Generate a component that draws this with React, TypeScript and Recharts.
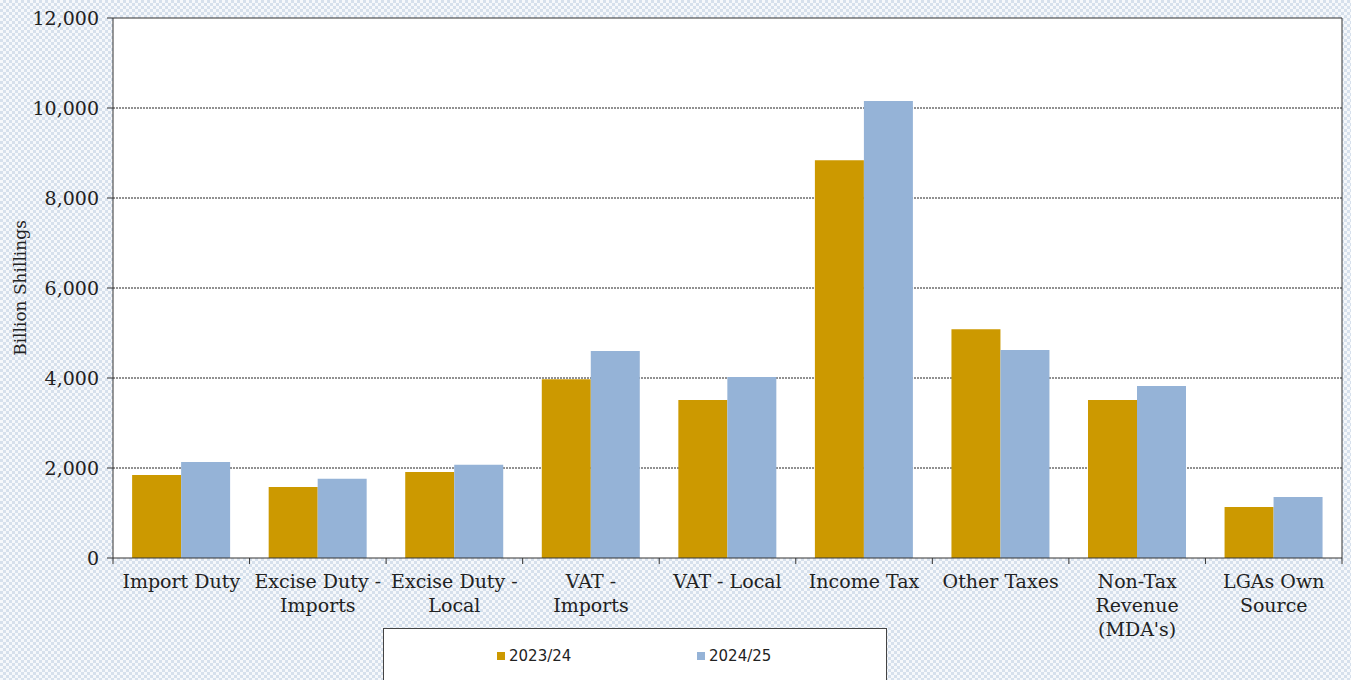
import {
  Bar,
  BarChart,
  CartesianGrid,
  ReferenceLine,
  XAxis,
  YAxis,
} from "recharts";

const categories = [
  "Import Duty",
  "Excise Duty -\nImports",
  "Excise Duty -\nLocal",
  "VAT -\nImports",
  "VAT - Local",
  "Income Tax",
  "Other Taxes",
  "Non-Tax\nRevenue\n(MDA's)",
  "LGAs Own\nSource",
];
const fy2023 = [1845, 1580, 1910, 3975, 3510, 8840, 5085, 3510, 1135];
const fy2024 = [2135, 1760, 2070, 4600, 4020, 10155, 4620, 3820, 1355];
const yTicks = [0, 2000, 4000, 6000, 8000, 10000, 12000];

const series = [
  { key: "fy2023", name: "2023/24", color: "#CC9900" },
  { key: "fy2024", name: "2024/25", color: "#95B3D7" },
];

const data = categories.map((c, i) => ({
  name: c,
  fy2023: fy2023[i],
  fy2024: fy2024[i],
}));

const SERIF = "'DejaVu Serif', 'Liberation Serif', serif";
const INK = "#222";

function CategoryTick(props: any) {
  const { x, y, payload, index } = props;
  const half = payload?.offset ?? 68.3;
  const lines = String(payload.value).split("\n");
  return (
    <g>
      <line x1={x - half} y1={y} x2={x - half} y2={y + 6} stroke="#333" />
      {index === categories.length - 1 && (
        <line x1={x + half} y1={y} x2={x + half} y2={y + 6} stroke="#333" />
      )}
      <text
        x={x}
        y={y + 30}
        textAnchor="middle"
        fontFamily={SERIF}
        fontSize={19}
        fill={INK}
      >
        {lines.map((l, i) => (
          <tspan key={i} x={x} dy={i === 0 ? 0 : 24}>
            {l}
          </tspan>
        ))}
      </text>
    </g>
  );
}

function AxisTitle(props: any) {
  const vb = props.viewBox ?? { x: 0, y: 18, width: 113, height: 540 };
  const cx = vb.x + 20;
  const cy = vb.y + vb.height / 2;
  return (
    <text
      x={cx}
      y={cy}
      transform={`rotate(-90 ${cx} ${cy})`}
      textAnchor="middle"
      dominantBaseline="central"
      fontFamily={SERIF}
      fontSize={17}
      fill={INK}
    >
      Billion Shillings
    </text>
  );
}

export default function App() {
  return (
    <div
      style={{
        position: "relative",
        width: 1351,
        height: 680,
        overflow: "hidden",
        backgroundColor: "#e4ebf3",
        backgroundImage:
          "repeating-conic-gradient(#d6e0ec 0 25%, #f6f8fb 0 50%)",
        backgroundSize: "6px 6px",
      }}
    >
      <style>{`body{margin:0}`}</style>
      <BarChart
        width={1351}
        height={680}
        data={data}
        margin={{ top: 18, right: 0, left: 0, bottom: 0 }}
        barCategoryGap="14%"
        barGap={0}
      >
        <CartesianGrid
          vertical={false}
          fill="#ffffff"
          stroke="#222"
          strokeDasharray="2 1"
          horizontalValues={[2000, 4000, 6000, 8000, 10000]}
        />
        <XAxis
          dataKey="name"
          height={122}
          interval={0}
          tickLine={false}
          tickSize={0}
          tickMargin={0}
          axisLine={{ stroke: "#333" }}
          tick={<CategoryTick />}
        />
        <YAxis
          width={113}
          domain={[0, 12000]}
          ticks={yTicks}
          interval={0}
          tickSize={6}
          tickMargin={8}
          axisLine={{ stroke: "#333" }}
          tickLine={{ stroke: "#333" }}
          tick={{ fontFamily: SERIF, fontSize: 19, fill: INK }}
          tickFormatter={(v: number) => v.toLocaleString("en-US")}
          label={<AxisTitle />}
        />
        <YAxis
          yAxisId="frame"
          orientation="right"
          width={9}
          domain={[0, 12000]}
          tick={false}
          tickLine={false}
          axisLine={{ stroke: "#333" }}
        />
        <ReferenceLine y={12000} stroke="#333" strokeWidth={1} />
        {series.map((s) => (
          <Bar
            key={s.key}
            dataKey={s.key}
            name={s.name}
            fill={s.color}
            isAnimationActive={false}
          />
        ))}
      </BarChart>
      <div
        style={{
          position: "absolute",
          left: 383,
          top: 628,
          width: 502,
          height: 70,
          background: "#fff",
          border: "1px solid #444",
          fontFamily: "'DejaVu Sans', Verdana, sans-serif",
          fontSize: 15,
          color: INK,
        }}
      >
        {series.map((s, i) => (
          <div
            key={s.key}
            style={{
              position: "absolute",
              left: 113 + i * 200,
              top: 18,
              display: "flex",
              alignItems: "center",
              whiteSpace: "nowrap",
            }}
          >
            <span
              style={{
                display: "inline-block",
                width: 8,
                height: 8,
                background: s.color,
                marginRight: 4,
              }}
            />
            {s.name}
          </div>
        ))}
      </div>
    </div>
  );
}
